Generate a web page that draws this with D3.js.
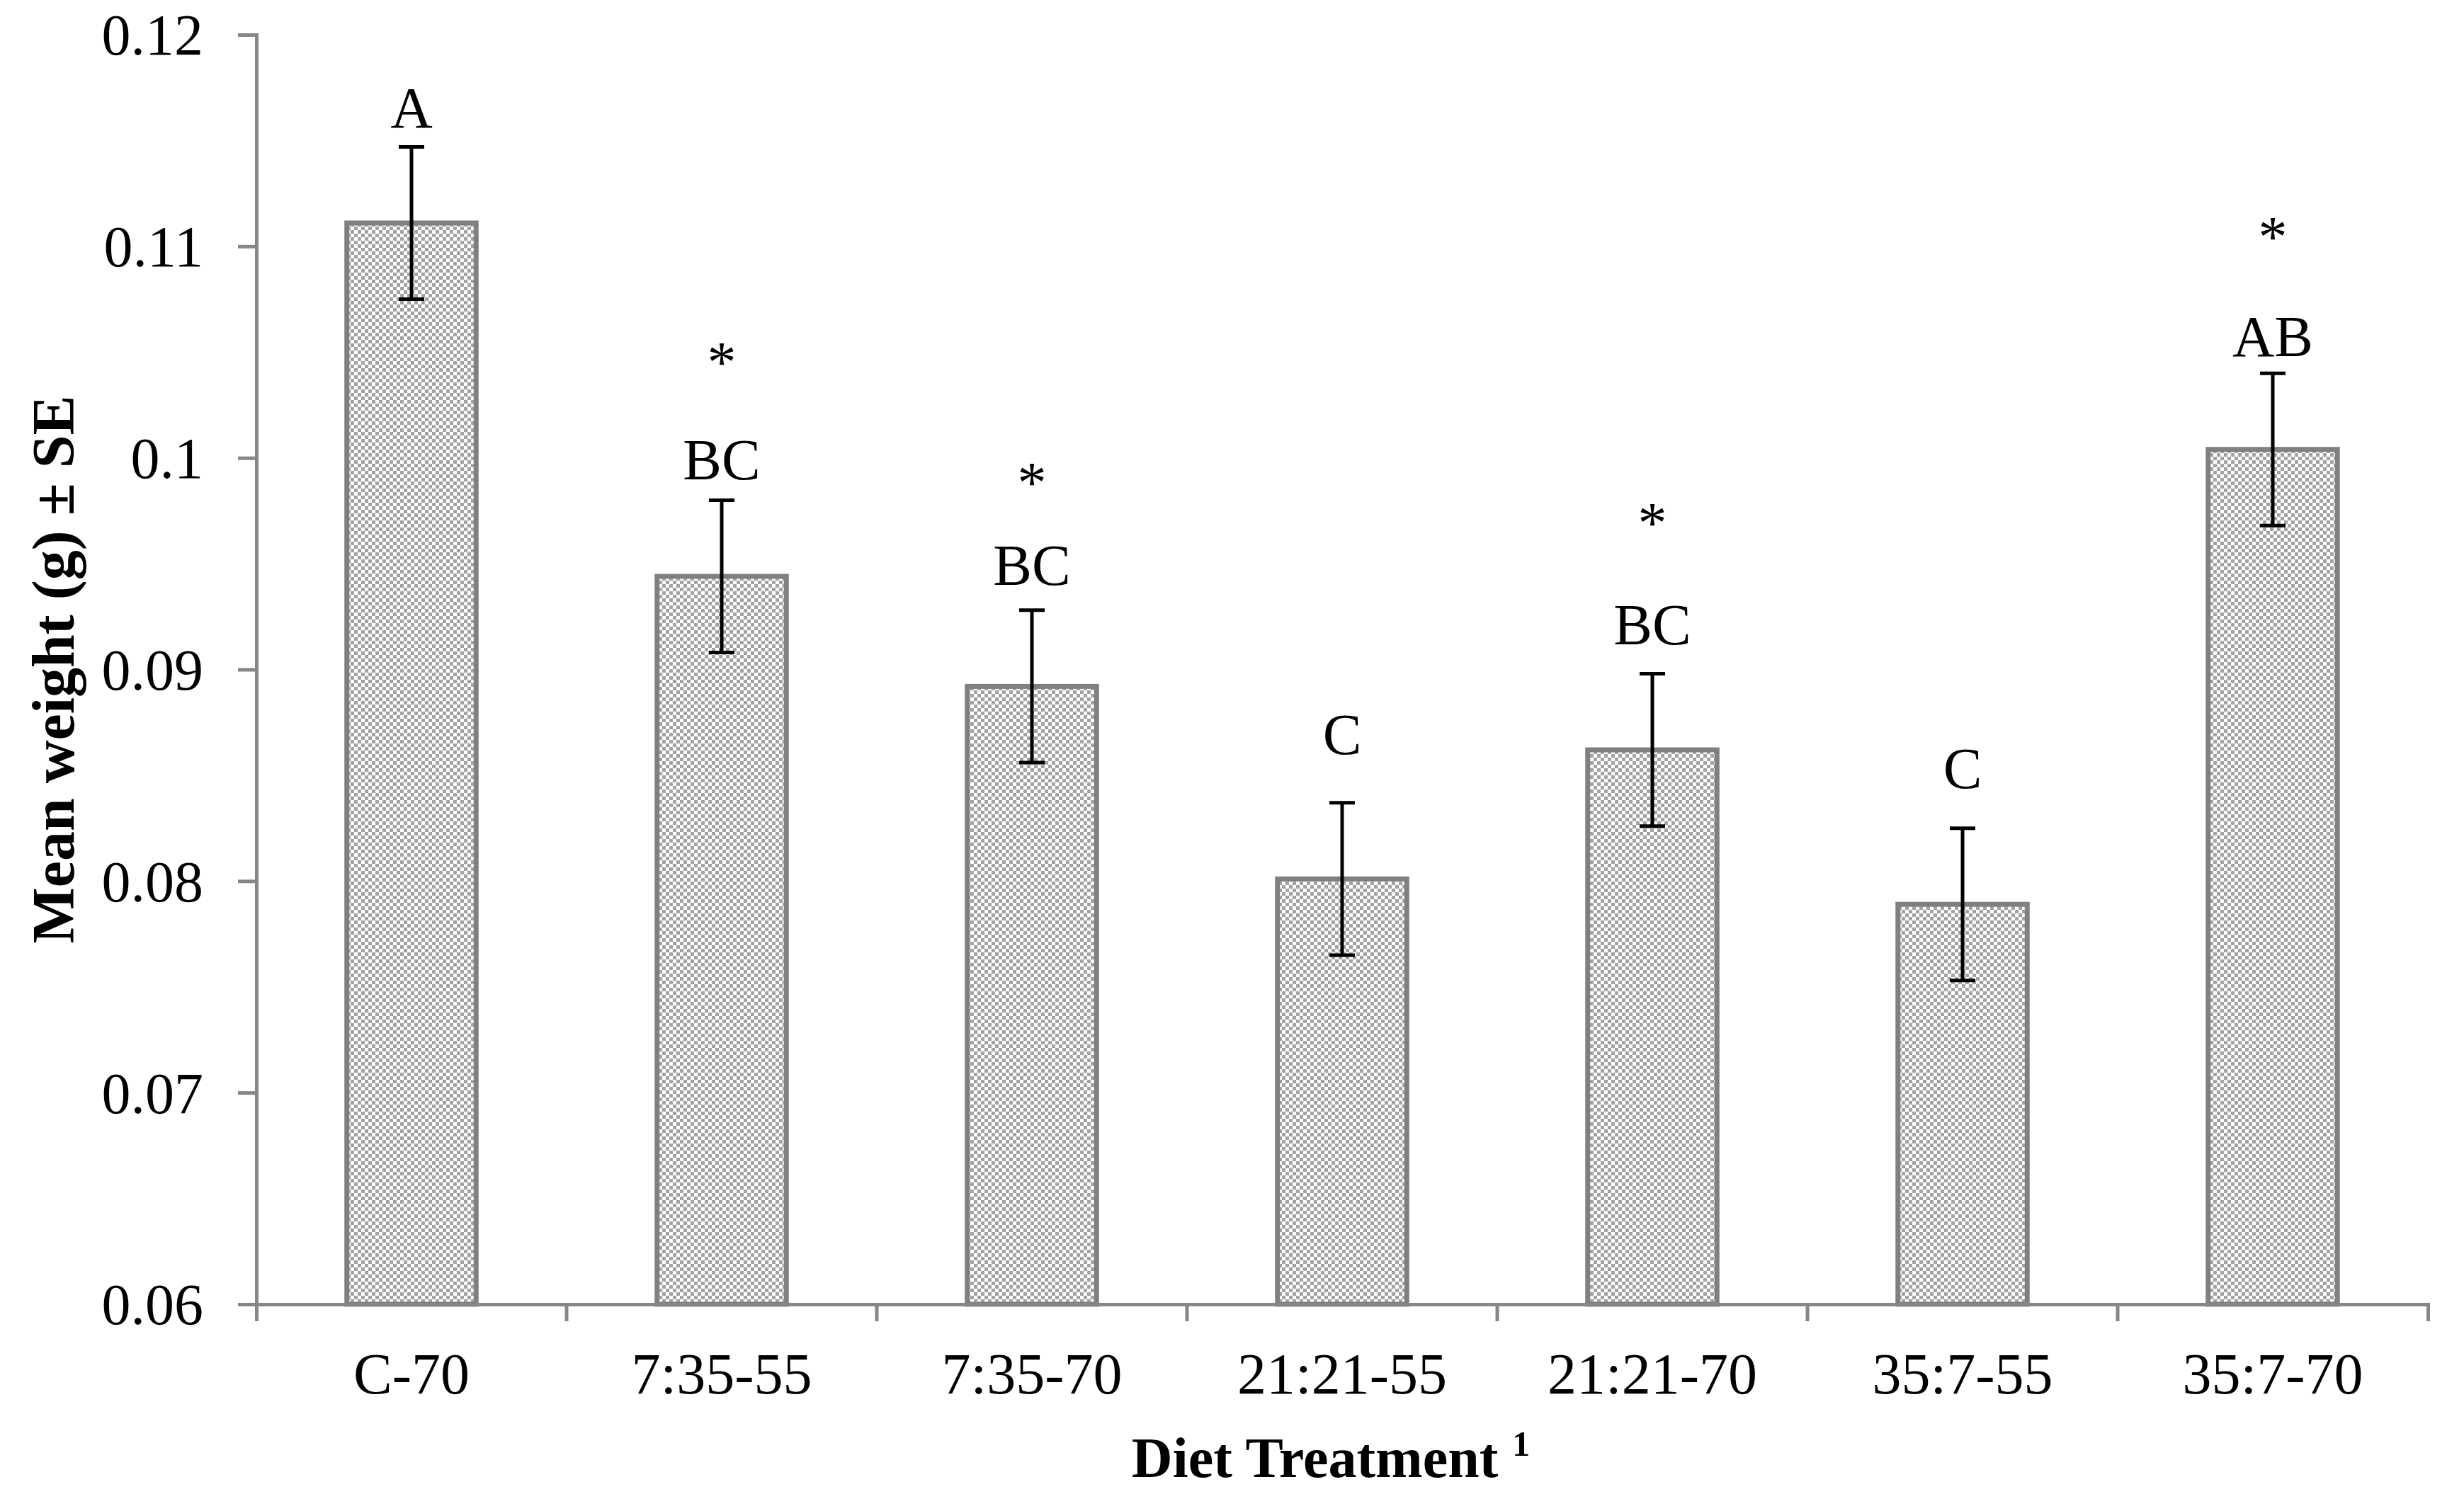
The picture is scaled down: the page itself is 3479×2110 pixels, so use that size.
<!DOCTYPE html>
<html>
<head>
<meta charset="utf-8">
<script src="https://cdn.jsdelivr.net/npm/d3@7"></script>
<style>
  html, body { margin: 0; padding: 0; background: #fff; }
  svg { display: block; }
  text { font-family: "Liberation Serif", "Times New Roman", serif; fill: #000; }
</style>
</head>
<body>
<svg id="chart" width="3479" height="2110"></svg>
<script>
// diet treatments and mean weights (g) with standard errors
const treatments = ["C-70", "7:35-55", "7:35-70", "21:21-55", "21:21-70", "35:7-55", "35:7-70"];
const meanWeight = [0.1111, 0.0944, 0.0892, 0.0801, 0.0862, 0.0789, 0.1004];
const stdErr = [0.0036, 0.0036, 0.0036, 0.0036, 0.0036, 0.0036, 0.0036];

// significance letters, and the value they sit at (baseline)
const letters = ["A", "BC", "BC", "C", "BC", "C", "AB"];
const letterAt = [0.1156, 0.0990, 0.0940, 0.0860, 0.0912, 0.0844, 0.1048];
// asterisks (null = none), value at their centre
const starAt = [null, 0.1049, 0.0992, null, 0.0973, null, 0.1108];

const yTicks = [0.06, 0.07, 0.08, 0.09, 0.1, 0.11, 0.12];

const svg = d3.select("#chart");
const plotLeft = 362, plotRight = 3428, plotTop = 49, plotBottom = 1842;
const AXIS = "#868686";
const FONT = 82;

const x = d3.scaleBand()
  .domain(treatments)
  .range([plotLeft, plotRight])
  .paddingInner(0.5833)
  .paddingOuter(0.29165);
const y = d3.scaleLinear().domain([0.06, 0.12]).range([plotBottom, plotTop]);

// checker fill of the bars
const defs = svg.append("defs");
const pat = defs.append("pattern")
  .attr("id", "checker")
  .attr("patternUnits", "userSpaceOnUse")
  .attr("width", 10).attr("height", 10);
pat.append("rect").attr("width", 10).attr("height", 10).attr("fill", "#ffffff");
pat.append("rect").attr("width", 5).attr("height", 5).attr("fill", "#a3a3a3");
pat.append("rect").attr("x", 5).attr("y", 5).attr("width", 5).attr("height", 5).attr("fill", "#a3a3a3");

const rows = treatments.map((t, i) => ({t, v: meanWeight[i], se: stdErr[i], letter: letters[i], la: letterAt[i], sa: starAt[i]}));

// bars
svg.append("g").selectAll("rect")
  .data(rows)
  .join("rect")
  .attr("x", d => x(d.t))
  .attr("y", d => y(d.v))
  .attr("width", x.bandwidth())
  .attr("height", d => y(0.06) - y(d.v))
  .attr("fill", "url(#checker)")
  .attr("stroke", "#808080")
  .attr("stroke-width", 7);

// y axis
const yAxis = svg.append("g")
  .attr("transform", `translate(${plotLeft},0)`)
  .call(d3.axisLeft(y).tickValues(yTicks).tickSize(26).tickSizeOuter(26).tickPadding(49).tickFormat(d3.format("~g")));
yAxis.select(".domain").attr("stroke", AXIS).attr("stroke-width", 5);
yAxis.selectAll(".tick line").attr("stroke", AXIS).attr("stroke-width", 5);
yAxis.selectAll(".tick text")
  .attr("font-size", FONT)
  .attr("dy", "0.34em")
  .style("font-family", "'Liberation Serif', serif");

// x axis: labels at band centres, ticks between categories
const xAxis = svg.append("g")
  .attr("transform", `translate(0,${plotBottom})`)
  .call(d3.axisBottom(x).tickSize(0).tickSizeOuter(24));
xAxis.select(".domain").attr("stroke", AXIS).attr("stroke-width", 5);
xAxis.selectAll(".tick text")
  .attr("font-size", FONT)
  .attr("y", 68)
  .attr("dy", "0.71em")
  .style("font-family", "'Liberation Serif', serif");
xAxis.selectAll(".boundary")
  .data(treatments.slice(1))
  .join("line")
  .attr("class", "boundary")
  .attr("x1", d => x(d) - x.step() * x.paddingInner() / 2)
  .attr("x2", d => x(d) - x.step() * x.paddingInner() / 2)
  .attr("y1", 0)
  .attr("y2", 24)
  .attr("stroke", AXIS)
  .attr("stroke-width", 5);

// error bars
const cx = d => x(d.t) + x.bandwidth() / 2;
const eb = svg.append("g").attr("stroke", "#000").attr("stroke-width", 5);
eb.selectAll(".stem").data(rows).join("line").attr("class", "stem")
  .attr("x1", cx).attr("x2", cx)
  .attr("y1", d => y(d.v + d.se)).attr("y2", d => y(d.v - d.se));
eb.selectAll(".capHi").data(rows).join("line").attr("class", "capHi")
  .attr("x1", d => cx(d) - 18).attr("x2", d => cx(d) + 18)
  .attr("y1", d => y(d.v + d.se)).attr("y2", d => y(d.v + d.se));
eb.selectAll(".capLo").data(rows).join("line").attr("class", "capLo")
  .attr("x1", d => cx(d) - 18).attr("x2", d => cx(d) + 18)
  .attr("y1", d => y(d.v - d.se)).attr("y2", d => y(d.v - d.se));

// letters and asterisks
svg.append("g").selectAll("text")
  .data(rows)
  .join("text")
  .attr("x", cx)
  .attr("y", d => y(d.la))
  .attr("text-anchor", "middle")
  .attr("font-size", FONT)
  .text(d => d.letter);
svg.append("g").selectAll("text")
  .data(rows.filter(d => d.sa != null))
  .join("text")
  .attr("x", cx)
  .attr("y", d => y(d.sa))
  .attr("dy", "0.47em")
  .attr("text-anchor", "middle")
  .attr("font-size", FONT)
  .text("*");

// axis titles
svg.append("text")
  .attr("transform", `translate(104,${(plotTop + plotBottom) / 2}) rotate(-90)`)
  .attr("text-anchor", "middle")
  .attr("font-size", 84)
  .attr("font-weight", "bold")
  .text("Mean weight (g) ± SE");
const xt = svg.append("text")
  .attr("x", (plotLeft + plotRight) / 2 - 16)
  .attr("y", 2086)
  .attr("text-anchor", "middle")
  .attr("font-size", 80)
  .attr("font-weight", "bold");
xt.append("tspan").text("Diet Treatment ");
xt.append("tspan").attr("font-size", 50).attr("dy", -30).text("1");
</script>
</body>
</html>
